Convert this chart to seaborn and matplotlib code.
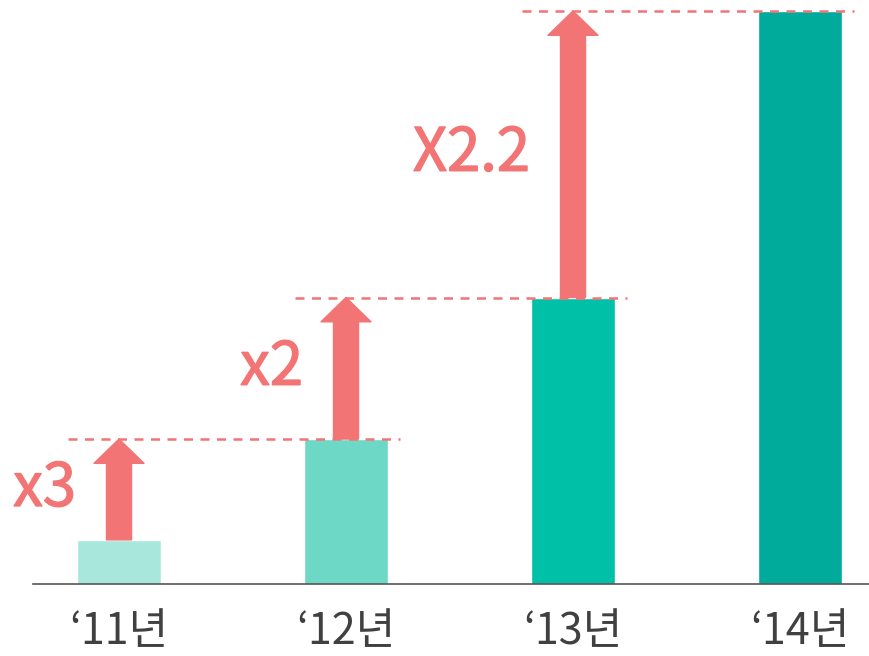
import pandas as pd
import matplotlib
matplotlib.use("Agg")
import matplotlib.pyplot as plt
import matplotlib.patheffects as pe
import seaborn as sns
from matplotlib.patches import FancyArrowPatch

# --- data ---
years = ["‘11년", "‘12년", "‘13년", "‘14년"]
values = [7.7, 25.3, 50.0, 100.0]
growth = ["x3", "x2", "X2.2"]
bar_colors = ["#a8e8dc", "#6cd8c5", "#00c0a8", "#00ab9b"]
accent = "#f27474"

sns.set_theme(style="white")
plt.rcParams['font.family'] = ['Noto Sans CJK KR', 'DejaVu Sans']

W, H = 869, 656
fig = plt.figure(figsize=(W / 100, H / 100), dpi=100)
ax = fig.add_axes([33 / W, 72 / H, (W - 33) / W, 584 / H])

df = pd.DataFrame({"year": years, "value": values})
sns.barplot(data=df, x="year", y="value", hue="year", palette=bar_colors,
            width=0.37, saturation=1, legend=False, ax=ax)

ax.set_xlim((33 - 119) / 227, (W - 119) / 227)
ax.set_ylim(0, 100 * 584 / 573)

# growth arrows, dashed guide lines and multiplier labels
for i in range(len(growth)):
    y0, y1 = values[i], values[i + 1]
    ax.hlines(y1, i - 51 / 227, i + 1 + 54 / 227, colors=accent,
              linewidth=1.8, linestyles=(0, (3.6, 3.0)), zorder=3)
    arr = FancyArrowPatch((i, y0), (i, y1),
                          arrowstyle="simple,head_length=1.75,head_width=3.6,tail_width=1.8",
                          mutation_scale=10, shrinkA=0, shrinkB=0,
                          color=accent, zorder=4)
    ax.add_patch(arr)
    ax.text(i - 43 / 227, (y0 + y1) / 2, growth[i], ha="right", va="center",
            fontsize=43, color=accent,
            path_effects=[pe.withStroke(linewidth=1.0, foreground=accent)])

ax.set_xlabel("")
ax.set_ylabel("")
ax.set_yticks([])
ax.tick_params(axis="x", length=0, pad=19, labelsize=31, labelcolor="#404040")
for side in ["left", "top", "right"]:
    ax.spines[side].set_visible(False)
ax.spines["bottom"].set_color("#555555")
ax.spines["bottom"].set_linewidth(1.2)

fig.savefig("out.png", dpi=100)
